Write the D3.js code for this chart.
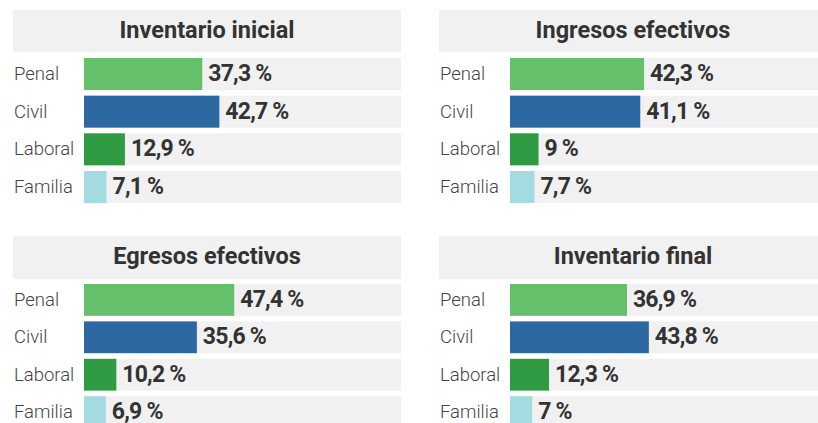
<!DOCTYPE html>
<html>
<head>
<meta charset="utf-8">
<script src="https://cdn.jsdelivr.net/npm/d3@7"></script>
<style>
  html, body { margin: 0; padding: 0; background: #ffffff; }
  svg { display: block; }
</style>
</head>
<body>
<svg id="chart" width="818" height="423"></svg>
<script>
const categories = ["Penal", "Civil", "Laboral", "Familia"];
const panelTitles = ["Inventario inicial", "Ingresos efectivos", "Egresos efectivos", "Inventario final"];
const inventarioInicial = [37.3, 42.7, 12.9, 7.1];
const ingresosEfectivos = [42.3, 41.1, 9, 7.7];
const egresosEfectivos = [47.4, 35.6, 10.2, 6.9];
const inventarioFinal = [36.9, 43.8, 12.3, 7];
const valueLabels = [
  ["37,3 %", "42,7 %", "12,9 %", "7,1 %"],
  ["42,3 %", "41,1 %", "9 %", "7,7 %"],
  ["47,4 %", "35,6 %", "10,2 %", "6,9 %"],
  ["36,9 %", "43,8 %", "12,3 %", "7 %"]
];
const colors = ["#65bf6b", "#2e68a2", "#2f9a42", "#a3dbe1"];

const seriesList = [inventarioInicial, ingresosEfectivos, egresosEfectivos, inventarioFinal];

const svg = d3.select("#chart");

// panel layout
const panels = [
  { x: 13, y: 10, titleH: 42, rowTop: 58, rowBottom: 203 },
  { x: 439, y: 10, titleH: 42, rowTop: 58, rowBottom: 203 },
  { x: 13, y: 236, titleH: 43, rowTop: 284, rowBottom: 428 },
  { x: 439, y: 236, titleH: 43, rowTop: 284, rowBottom: 428 }
];
const panelW = 388;
const labelW = 71;

panels.forEach((p, i) => {
  const g = svg.append("g");
  const x = d3.scaleLinear().domain([0, 100]).range([p.x + labelW, p.x + panelW]);
  const y = d3.scaleBand().domain(categories).range([p.rowTop, p.rowBottom]).paddingInner(0.15).paddingOuter(0);

  // title box
  g.append("rect")
    .attr("x", p.x).attr("y", p.y)
    .attr("width", panelW).attr("height", p.titleH)
    .attr("fill", "#f1f1f1");
  g.append("text")
    .attr("x", p.x + panelW / 2)
    .attr("y", p.y + p.titleH / 2 + 6.5)
    .attr("text-anchor", "middle")
    .attr("font-family", "Roboto, sans-serif")
    .attr("font-weight", 700)
    .attr("font-size", 23.5)
    .attr("fill", "#333333")
    .text(panelTitles[i]);

  const data = categories.map((c, k) => ({ cat: c, v: seriesList[i][k], label: valueLabels[i][k], color: colors[k] }));

  // row backgrounds
  g.selectAll(".bg").data(data).enter().append("rect")
    .attr("x", x(0)).attr("y", d => y(d.cat))
    .attr("width", x(100) - x(0)).attr("height", y.bandwidth())
    .attr("fill", "#f1f1f1");

  // bars
  g.selectAll(".bar").data(data).enter().append("rect")
    .attr("x", x(0)).attr("y", d => y(d.cat))
    .attr("width", d => x(d.v) - x(0)).attr("height", y.bandwidth())
    .attr("fill", d => d.color);

  // category labels
  g.selectAll(".cat").data(data).enter().append("text")
    .attr("x", p.x + 1)
    .attr("y", d => y(d.cat) + y.bandwidth() / 2 + 6)
    .attr("font-family", "Roboto, sans-serif")
    .attr("font-weight", 300)
    .attr("font-size", 18.5)
    .attr("fill", "#444444")
    .text(d => d.cat);

  // value labels
  g.selectAll(".val").data(data).enter().append("text")
    .attr("x", d => x(d.v) + 6)
    .attr("y", d => y(d.cat) + y.bandwidth() / 2 + 7)
    .attr("font-family", "Roboto, sans-serif")
    .attr("font-weight", 700)
    .attr("font-size", 23)
    .attr("letter-spacing", -0.8)
    .attr("fill", "#333333")
    .text(d => d.label);
});
</script>
</body>
</html>
